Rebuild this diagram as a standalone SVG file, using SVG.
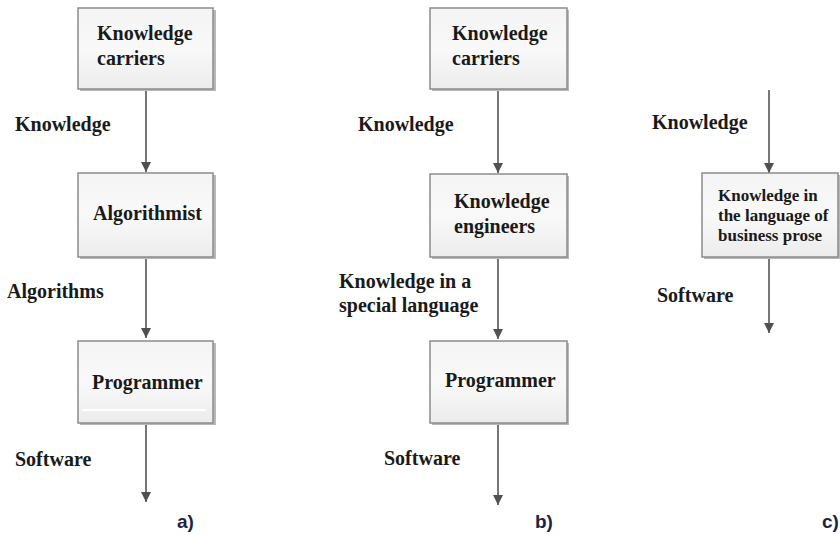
<svg xmlns="http://www.w3.org/2000/svg" width="840" height="535" viewBox="0 0 840 535">
<defs>
<linearGradient id="g" x1="0" y1="0" x2="0" y2="1">
<stop offset="0" stop-color="#f4f4f4"/>
<stop offset="0.5" stop-color="#f9f9f9"/>
<stop offset="1" stop-color="#ececec"/>
</linearGradient>
<marker id="ah" viewBox="0 0 10 10" refX="10" refY="5" markerWidth="10" markerHeight="10" markerUnits="userSpaceOnUse" orient="auto">
<path d="M0,0 L10,5 L0,10 Z" fill="#505050"/>
</marker>
<style>
.box{fill:url(#g);stroke:#8c8c8c;stroke-width:1.5}
.sh{fill:#b8b8b8}
.t{font-family:"Liberation Serif","Times New Roman",serif;font-weight:bold;font-size:20px;fill:#1a1a1a}
.ts{font-family:"Liberation Serif","Times New Roman",serif;font-weight:bold;font-size:17px;fill:#1a1a1a}
.lab{font-family:"Liberation Sans",Arial,sans-serif;font-weight:bold;font-size:19px;fill:#1c2540}
.c{stroke:#777;stroke-width:2;fill:none;marker-end:url(#ah)}
</style>
</defs>
<rect width="840" height="535" fill="#fff"/>
<g id="connectors">
<line class="c" x1="146" y1="89" x2="146" y2="172"/>
<line class="c" x1="146" y1="257" x2="146" y2="338"/>
<line class="c" x1="146" y1="423" x2="146" y2="502"/>
<line class="c" x1="498" y1="89" x2="498" y2="173"/>
<line class="c" x1="498" y1="257" x2="498" y2="339"/>
<line class="c" x1="498" y1="423" x2="498" y2="505"/>
<line class="c" x1="769" y1="90" x2="769" y2="173"/>
<line class="c" x1="769" y1="257" x2="769" y2="333"/>
</g>
<g id="a-carriers">
<rect class="sh" x="80" y="10" width="136" height="81"/>
<rect class="box" x="78" y="8" width="135" height="81"/>
<text class="t" x="97" y="40">Knowledge</text>
<text class="t" x="97" y="65">carriers</text>
</g>
<g id="a-algorithmist">
<rect class="sh" x="80" y="175" width="136" height="84"/>
<rect class="box" x="78" y="173" width="135" height="84"/>
<text class="t" x="93" y="220">Algorithmist</text>
</g>
<g id="a-programmer">
<rect class="sh" x="80" y="343" width="136" height="82"/>
<rect class="box" x="78" y="341" width="135" height="82"/>
<line x1="82" y1="410" x2="206" y2="410" stroke="#fff" stroke-width="2"/>
<text class="t" x="92" y="389">Programmer</text>
</g>
<g id="a-labels">
<text class="t" x="15" y="131">Knowledge</text>
<text class="t" x="7" y="298">Algorithms</text>
<text class="t" x="15" y="466">Software</text>
<text class="lab" x="177" y="528">a)</text>
</g>
<g id="b-carriers">
<rect class="sh" x="432" y="10" width="137" height="81"/>
<rect class="box" x="430" y="8" width="137" height="81"/>
<text class="t" x="452" y="40">Knowledge</text>
<text class="t" x="452" y="65">carriers</text>
</g>
<g id="b-engineers">
<rect class="sh" x="432" y="176" width="137" height="83"/>
<rect class="box" x="430" y="174" width="137" height="83"/>
<text class="t" x="454" y="208">Knowledge</text>
<text class="t" x="454" y="233">engineers</text>
</g>
<g id="b-programmer">
<rect class="sh" x="432" y="343" width="137" height="82"/>
<rect class="box" x="430" y="341" width="137" height="82"/>
<text class="t" x="445" y="387">Programmer</text>
</g>
<g id="b-labels">
<text class="t" x="358" y="131">Knowledge</text>
<text class="t" x="339" y="288">Knowledge in a</text>
<text class="t" x="339" y="312">special language</text>
<text class="t" x="384" y="465">Software</text>
<text class="lab" x="535" y="528">b)</text>
</g>
<g id="c-prose">
<rect class="sh" x="704" y="175" width="136" height="84"/>
<rect class="box" x="702" y="173" width="136" height="84"/>
<text class="ts" x="718" y="201">Knowledge in</text>
<text class="ts" x="718" y="221">the language of</text>
<text class="ts" x="718" y="241">business prose</text>
</g>
<g id="c-labels">
<text class="t" x="652" y="129">Knowledge</text>
<text class="t" x="657" y="302">Software</text>
<text class="lab" x="822" y="528">c)</text>
</g>
</svg>
